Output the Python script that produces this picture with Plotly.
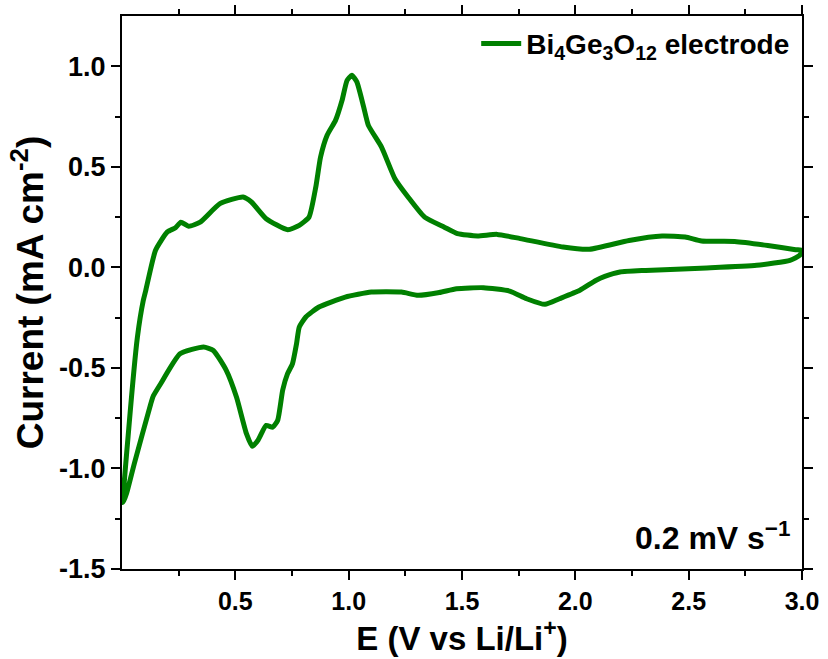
import plotly.graph_objects as go

# Cathodic scan (3.0 V -> 0.0 V), lower branch
cath_E = [3.0, 2.99, 2.947, 2.8, 2.58, 2.31, 2.197, 2.13, 2.09, 2.02, 1.93, 1.866, 1.785, 1.71,
          1.595, 1.476, 1.40, 1.306, 1.233, 1.10, 0.985, 0.869, 0.811, 0.782, 0.77, 0.752,
          0.73, 0.709, 0.687, 0.665, 0.636, 0.6, 0.575, 0.549, 0.505, 0.46, 0.403, 0.36,
          0.256, 0.17, 0.138, 0.127, 0.054, 0.02, 0.005]
cath_I = [0.085, 0.06, 0.035, 0.01, -0.003, -0.015, -0.023, -0.045, -0.065, -0.114, -0.156, -0.184,
          -0.156, -0.118, -0.101, -0.106, -0.125, -0.139, -0.123, -0.123, -0.148, -0.197, -0.247,
          -0.297, -0.38, -0.48, -0.53, -0.61, -0.76, -0.795, -0.786, -0.86, -0.89, -0.827, -0.645,
          -0.512, -0.413, -0.396, -0.43, -0.58, -0.64, -0.678, -0.977, -1.125, -1.17]

# Anodic scan (0.0 V -> 3.0 V), upper branch
anod_E = [0.005, 0.03, 0.068, 0.094, 0.105, 0.148, 0.2, 0.236, 0.26, 0.294, 0.345, 0.432, 0.534,
          0.571, 0.636, 0.731, 0.782, 0.825, 0.855, 0.876, 0.905, 0.942, 0.971, 0.993, 1.014,
          1.036, 1.066, 1.087, 1.145, 1.204, 1.262, 1.335, 1.422, 1.48, 1.568, 1.655, 1.757,
          1.946, 2.062, 2.237, 2.383, 2.485, 2.557, 2.703, 2.849, 2.972, 3.0]
anod_I = [-1.17, -0.8, -0.347, -0.164, -0.114, 0.085, 0.176, 0.197, 0.225, 0.204, 0.225, 0.317,
          0.35, 0.325, 0.242, 0.187, 0.209, 0.25, 0.40, 0.549, 0.657, 0.731, 0.831, 0.93, 0.955,
          0.922, 0.798, 0.706, 0.598, 0.441, 0.35, 0.25, 0.2, 0.168, 0.156, 0.164, 0.143, 0.101,
          0.09, 0.134, 0.156, 0.151, 0.131, 0.129, 0.109, 0.088, 0.085]

E = cath_E + anod_E[1:]
I = cath_I + anod_I[1:]

x_ticks = [0.5, 1.0, 1.5, 2.0, 2.5, 3.0]
x_labels = ["0.5", "1.0", "1.5", "2.0", "2.5", "3.0"]
y_ticks = [-1.5, -1.0, -0.5, 0.0, 0.5, 1.0]
y_labels = ["-1.5", "-1.0", "-0.5", "0.0", "0.5", "1.0"]

FONT = "Liberation Sans"

fig = go.Figure()
fig.add_trace(go.Scatter(
    x=E, y=I, mode="lines",
    line=dict(color="#008000", width=5, shape="spline", smoothing=0.5),
    name="<b>Bi<sub>4</sub>Ge<sub>3</sub>O<sub>12</sub> electrode</b>",
))

axis_common = dict(
    showline=True, linecolor="black", linewidth=2, mirror="ticks",
    ticks="outside", ticklen=9, tickwidth=2, tickcolor="black",
    showgrid=False, zeroline=False, automargin=False,
)

fig.update_xaxes(
    range=[0, 3.0], tickvals=x_ticks, ticktext=["<b>%s</b>" % t for t in x_labels],
    tickfont=dict(family=FONT, size=25, color="black"),
    minor=dict(tickvals=[0.25, 0.75, 1.25, 1.75, 2.25, 2.75], ticks="outside", ticklen=5,
               tickwidth=2, tickcolor="black"),
    title=dict(text="<b>E (V vs Li/Li<sup>+</sup>)</b>", standoff=4,
               font=dict(family=FONT, size=33, color="black")),
    **axis_common,
)
fig.update_yaxes(
    range=[-1.5, 1.25], tickvals=y_ticks, ticktext=["<b>%s</b>" % t for t in y_labels],
    tickfont=dict(family=FONT, size=27, color="black"),
    minor=dict(tickvals=[-1.25, -0.75, -0.25, 0.25, 0.75], ticks="outside", ticklen=5,
               tickwidth=2, tickcolor="black"),
    title=dict(text="<b>Current (mA cm<sup>-2</sup>)</b>", standoff=4,
               font=dict(family=FONT, size=37, color="black")),
    **axis_common,
)

fig.add_annotation(
    x=0.985, y=0.02, xref="paper", yref="paper", xanchor="right", yanchor="bottom",
    text="<b>0.2 mV s<sup>\u22121</sup></b>", showarrow=False,
    font=dict(family=FONT, size=32, color="black"),
)

fig.update_layout(
    width=828, height=659,
    margin=dict(l=122, r=26, t=16, b=90),
    plot_bgcolor="white", paper_bgcolor="white",
    showlegend=True,
    legend=dict(x=0.99, y=0.995, xanchor="right", yanchor="top",
                bgcolor="rgba(0,0,0,0)",
                font=dict(family=FONT, size=28, color="black"),
                itemwidth=40),
)

fig.write_html("out.html")
